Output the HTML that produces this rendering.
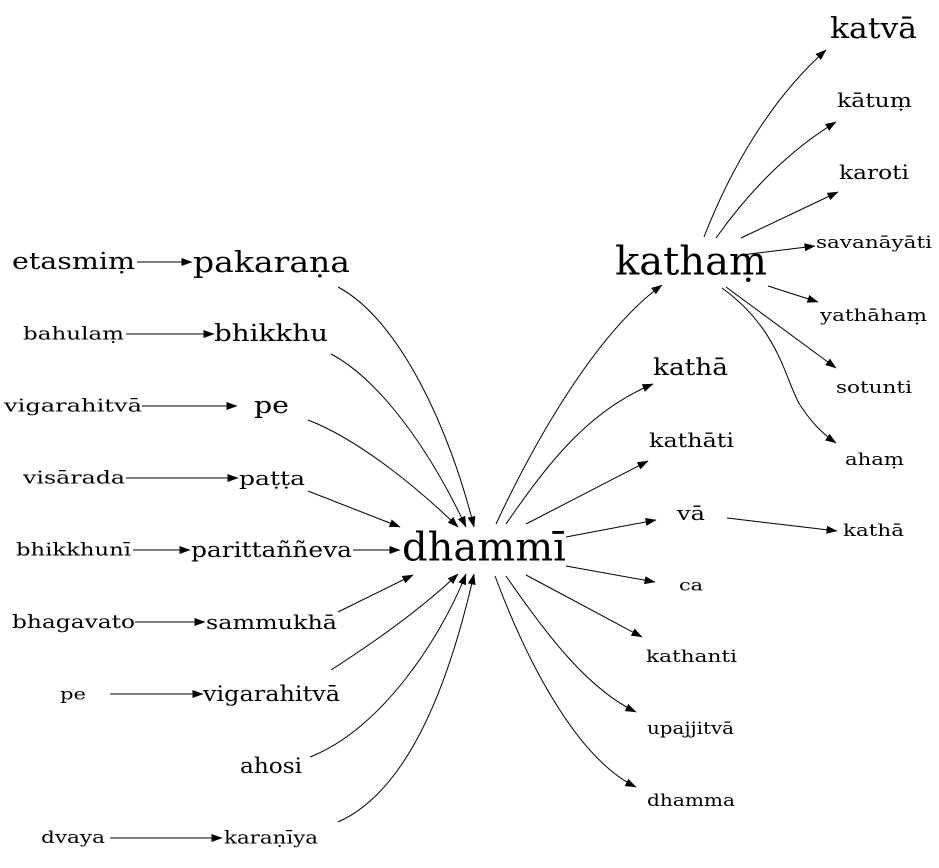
<!DOCTYPE html>
<html><head><meta charset="utf-8"><style>
html,body{margin:0;padding:0;background:#fff;}
svg{display:block;}
text{font-family:"DejaVu Serif","Liberation Serif",serif;fill:#000;text-anchor:middle;dominant-baseline:central;}
</style></head><body>
<svg id="g" width="939" height="868" viewBox="0 0 939 868" xmlns="http://www.w3.org/2000/svg">
<defs><marker id="ah" markerWidth="11" markerHeight="8" refX="10.5" refY="4" orient="auto" markerUnits="userSpaceOnUse"><path d="M0,0 L11,4 L0,8 Z" fill="#000"/></marker></defs>
</svg>
<script>
const nodeLabels=["etasmiṃ","bahulaṃ","vigarahitvā","visārada","bhikkhunī","bhagavato","pe","dvaya",
"pakaraṇa","bhikkhu","pe","paṭṭa","parittaññeva","sammukhā","vigarahitvā","ahosi","karaṇīya",
"dhammī","kathaṃ","kathā","kathāti","vā","ca","kathanti","upajjitvā","dhamma",
"katvā","kātuṃ","karoti","savanāyāti","yathāhaṃ","sotunti","ahaṃ","kathā"];
const nodeLeft=[12,23,4,23,16,12,60,41,193,214,254,239,191,206,203,240,224,402,615,653,649,677,679,646,647,647,830,837,839,816,820,836,845,843];
const nodeRight=[135,124,142,125,131,135,86,105,350,328,289,305,352,337,340,302,318,566,767,728,734,705,703,737,734,735,917,912,909,932,927,912,904,904];
const nodeY=[262,334,406,478,550,622,694,838,262,334,406,478,550,622,694,766,838,548,262,368,440,513,585,657,729,801,28,100,172,243,316,388,460,531];
const nodeSize=[23,18,18,18,18,19,16,17,29,23,23,20,21,20,21,21,18,39,39,23,20,20,16,17,17,17,29,20,20,17,17,17,17,17];
const edgePaths=[
"M137,262 L192,262","M126,334 L214,334","M142,406 L237,406","M126,478 L238,478","M133,550 L190,550",
"M135,622 L205,622","M110,694 L203,694","M110,838 L222,838","M353,550 L400,550",
"M338,287 C400,320 450,430 474,527","M331,354 C380,380 430,450 466,527","M308,420 C360,440 420,490 458,527",
"M308,491 L400,527","M338,612 L413,575","M331,670 C370,645 420,610 458,574","M310,757 C380,730 440,640 466,574",
"M338,822 C410,790 450,680 474,574",
"M496,524 C540,430 600,330 662,285","M506,524 C550,460 590,410 653,384","M526,524 L648,461","M566,537 L656,520",
"M566,566 L655,582","M526,575 L642,637","M506,576 C550,640 590,690 636,712","M495,576 C530,670 580,760 636,787",
"M704,237 C730,170 770,100 826,50","M716,238 C750,190 790,150 836,122","M741,238 L838,192","M741,255 L815,246",
"M768,286 L818,302","M726,287 L836,368","M722,288 C780,330 785,380 800,405 C810,420 820,432 836,443","M727,518 L837,531"];
const svg=document.getElementById('g');
const NS="http://www.w3.org/2000/svg";
edgePaths.forEach(function(d){
  const p=document.createElementNS(NS,'path');
  p.setAttribute('d',d);p.setAttribute('fill','none');p.setAttribute('stroke','#000');p.setAttribute('stroke-width','1');
  p.setAttribute('marker-end','url(#ah)');
  
  
  svg.appendChild(p);
});
nodeLabels.forEach(function(l,i){
  const t=document.createElementNS(NS,'text');
  t.setAttribute('x',(nodeLeft[i]+nodeRight[i])/2);t.setAttribute('y',nodeY[i]);t.setAttribute('font-size',nodeSize[i]);
  t.setAttribute('textLength',nodeRight[i]-nodeLeft[i]);t.setAttribute('lengthAdjust','spacingAndGlyphs');
  t.textContent=l;
  
  
  svg.appendChild(t);
});
</script>
</body></html>
